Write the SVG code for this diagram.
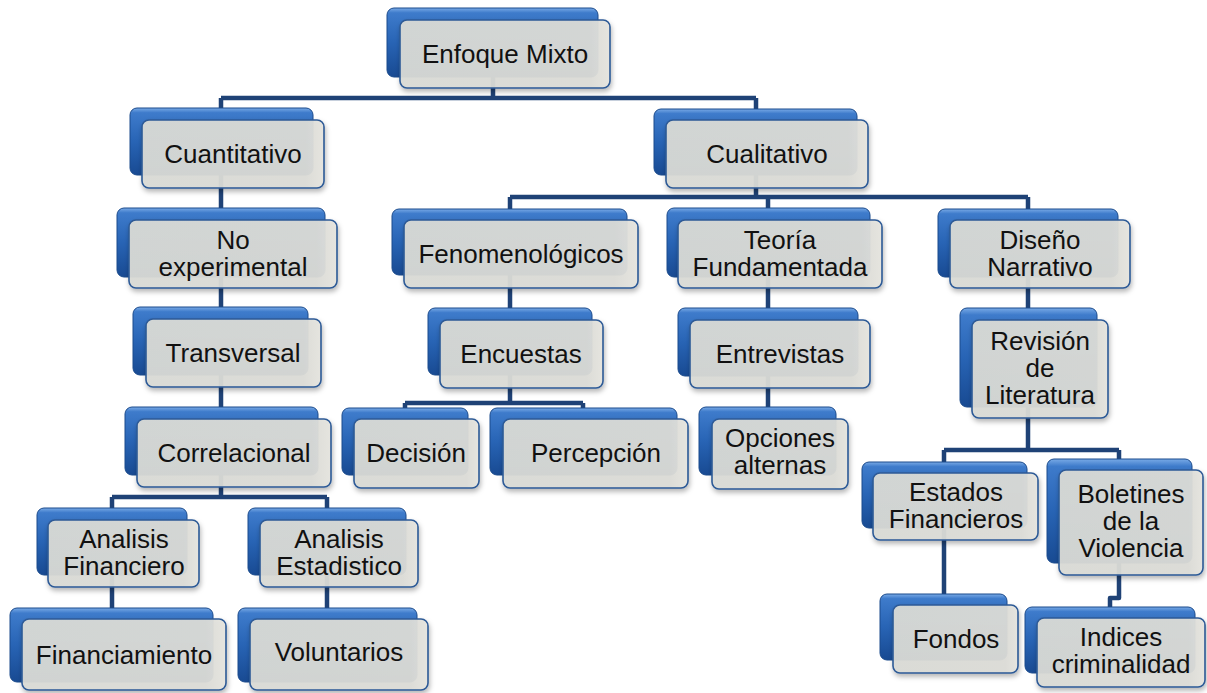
<svg xmlns="http://www.w3.org/2000/svg" width="1207" height="693" viewBox="0 0 1207 693">
<defs>
<linearGradient id="blue" x1="0" y1="0" x2="0" y2="1">
<stop offset="0" stop-color="#79AAE6"/>
<stop offset="0.07" stop-color="#3E7BCB"/>
<stop offset="0.5" stop-color="#2864B5"/>
<stop offset="1" stop-color="#184A92"/>
</linearGradient>
<linearGradient id="gray" x1="0" y1="0" x2="1" y2="0">
<stop offset="0" stop-color="#DADBD6"/>
<stop offset="0.9" stop-color="#DCDCD7"/>
<stop offset="1" stop-color="#E6E5DF"/>
</linearGradient>
<filter id="sh" x="-10%" y="-10%" width="125%" height="135%">
<feDropShadow dx="1" dy="3" stdDeviation="2.5" flood-color="#000" flood-opacity="0.3"/>
</filter>
</defs>
<style>
.b{fill:url(#blue);stroke:#1A4A8C;stroke-width:1}
.f{fill:url(#gray);fill-opacity:0.94;stroke:#2D5A96;stroke-width:1.6;filter:url(#sh)}
.t{font-family:"Liberation Sans",Arial,sans-serif;font-size:26px;fill:#111;text-anchor:middle}
.c{fill:none;stroke:#1F4276;stroke-width:4.5;stroke-linejoin:round;stroke-linecap:butt}
</style>
<rect width="1207" height="693" fill="#fff"/>
<g id="connectors" class="c">
<path d="M493,77 V98 M221,98 H756 M221,98 V108 M756,98 V109"/>
<path d="M221,175 V208 M221,277 V307 M221,375 V407 M221,475 V497 M112,497 H327 M112,497 V508 M327,497 V508"/>
<path d="M112,575 V608 M327,575 V608"/>
<path d="M756,175 V197 M510,197 H1028 M510,197 V209 M768,197 V208 M1028,197 V209"/>
<path d="M510,275 V308 M510,375 V403 M405,403 H583 M405,403 V408 M583,403 V408"/>
<path d="M768,277 V308 M768,376 V407"/>
<path d="M1028,277 V308 M1028,407 V450 M944,450 H1119 M944,450 V462 M1119,450 V459"/>
<path d="M944,528 V594 M1119,563 V598 H1110 V607"/>
</g>
<g id="n-enfoque"><rect class="b" x="387" y="8" width="211" height="69" rx="7"/><rect class="f" x="400" y="20" width="210" height="68" rx="7"/><text class="t" x="505" y="63">Enfoque Mixto</text></g>
<g id="n-cuantitativo"><rect class="b" x="130" y="108" width="183" height="67" rx="7"/><rect class="f" x="142" y="120" width="182" height="68" rx="7"/><text class="t" x="233" y="163">Cuantitativo</text></g>
<g id="n-cualitativo"><rect class="b" x="654" y="109" width="203" height="66" rx="7"/><rect class="f" x="666" y="120" width="202" height="68" rx="7"/><text class="t" x="767" y="163">Cualitativo</text></g>
<g id="n-noexp"><rect class="b" x="117" y="208" width="208" height="69" rx="7"/><rect class="f" x="129" y="220" width="208" height="68" rx="7"/><text class="t" x="233" y="249">No</text><text class="t" x="233" y="276">experimental</text></g>
<g id="n-fenom"><rect class="b" x="392" y="209" width="235" height="66" rx="7"/><rect class="f" x="404" y="220" width="234" height="68" rx="7"/><text class="t" x="521" y="263">Fenomenológicos</text></g>
<g id="n-teoria"><rect class="b" x="667" y="208" width="203" height="69" rx="7"/><rect class="f" x="678" y="220" width="204" height="68" rx="7"/><text class="t" x="780" y="249">Teoría</text><text class="t" x="780" y="276">Fundamentada</text></g>
<g id="n-diseno"><rect class="b" x="938" y="209" width="180" height="68" rx="7"/><rect class="f" x="950" y="220" width="180" height="68" rx="7"/><text class="t" x="1040" y="249">Diseño</text><text class="t" x="1040" y="276">Narrativo</text></g>
<g id="n-transversal"><rect class="b" x="133" y="307" width="175" height="68" rx="7"/><rect class="f" x="146" y="319" width="175" height="68" rx="7"/><text class="t" x="233" y="362">Transversal</text></g>
<g id="n-encuestas"><rect class="b" x="428" y="308" width="164" height="67" rx="7"/><rect class="f" x="440" y="320" width="163" height="68" rx="7"/><text class="t" x="521" y="363">Encuestas</text></g>
<g id="n-entrevistas"><rect class="b" x="678" y="308" width="180" height="68" rx="7"/><rect class="f" x="690" y="320" width="180" height="68" rx="7"/><text class="t" x="780" y="363">Entrevistas</text></g>
<g id="n-revision"><rect class="b" x="960" y="308" width="137" height="99" rx="7"/><rect class="f" x="972" y="320" width="136" height="98" rx="7"/><text class="t" x="1040" y="350">Revisión</text><text class="t" x="1040" y="377">de</text><text class="t" x="1040" y="404">Literatura</text></g>
<g id="n-correlacional"><rect class="b" x="125" y="407" width="193" height="68" rx="7"/><rect class="f" x="137" y="419" width="194" height="68" rx="7"/><text class="t" x="234" y="462">Correlacional</text></g>
<g id="n-decision"><rect class="b" x="342" y="408" width="126" height="67" rx="7"/><rect class="f" x="354" y="419" width="125" height="69" rx="7"/><text class="t" x="416" y="462">Decisión</text></g>
<g id="n-percepcion"><rect class="b" x="490" y="408" width="187" height="67" rx="7"/><rect class="f" x="503" y="419" width="185" height="69" rx="7"/><text class="t" x="596" y="462">Percepción</text></g>
<g id="n-opciones"><rect class="b" x="699" y="407" width="137" height="68" rx="7"/><rect class="f" x="712" y="419" width="136" height="70" rx="7"/><text class="t" x="780" y="447">Opciones</text><text class="t" x="780" y="474">alternas</text></g>
<g id="n-estados"><rect class="b" x="862" y="462" width="165" height="66" rx="7"/><rect class="f" x="873" y="473" width="165" height="67" rx="7"/><text class="t" x="956" y="501">Estados</text><text class="t" x="956" y="528">Financieros</text></g>
<g id="n-boletines"><rect class="b" x="1047" y="459" width="145" height="104" rx="7"/><rect class="f" x="1059" y="470" width="144" height="105" rx="7"/><text class="t" x="1131" y="503">Boletines</text><text class="t" x="1131" y="530">de la</text><text class="t" x="1131" y="557">Violencia</text></g>
<g id="n-anfin"><rect class="b" x="37" y="508" width="150" height="67" rx="7"/><rect class="f" x="48" y="520" width="151" height="67" rx="7"/><text class="t" x="124" y="548">Analisis</text><text class="t" x="124" y="575">Financiero</text></g>
<g id="n-anest"><rect class="b" x="248" y="508" width="158" height="67" rx="7"/><rect class="f" x="260" y="520" width="158" height="67" rx="7"/><text class="t" x="339" y="548">Analisis</text><text class="t" x="339" y="575">Estadistico</text></g>
<g id="n-fondos"><rect class="b" x="880" y="594" width="127" height="66" rx="7"/><rect class="f" x="893" y="605" width="125" height="68" rx="7"/><text class="t" x="956" y="648">Fondos</text></g>
<g id="n-indices"><rect class="b" x="1025" y="607" width="170" height="66" rx="7"/><rect class="f" x="1037" y="618" width="168" height="69" rx="7"/><text class="t" x="1121" y="646">Indices</text><text class="t" x="1121" y="673">criminalidad</text></g>
<g id="n-financiamiento"><rect class="b" x="10" y="608" width="203" height="74" rx="7"/><rect class="f" x="22" y="619" width="204" height="71" rx="7"/><text class="t" x="124" y="664">Financiamiento</text></g>
<g id="n-voluntarios"><rect class="b" x="238" y="608" width="179" height="74" rx="7"/><rect class="f" x="250" y="619" width="178" height="71" rx="7"/><text class="t" x="339" y="661">Voluntarios</text></g>
</svg>
